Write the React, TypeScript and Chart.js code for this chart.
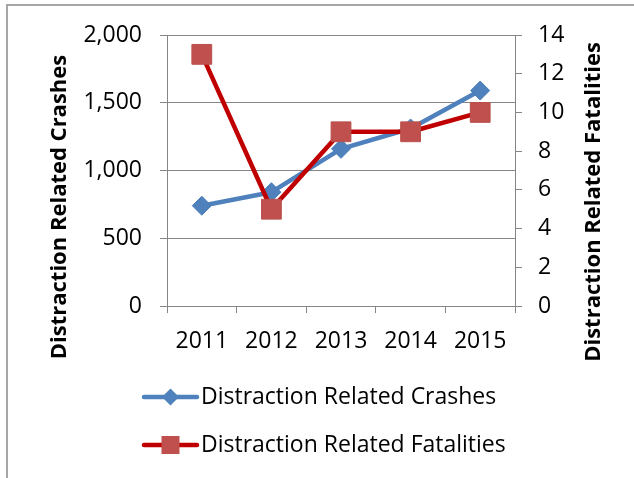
import React, { useEffect, useRef } from 'react';
import { Chart, registerables } from 'chart.js';

Chart.register(...registerables);

const years = ['2011', '2012', '2013', '2014', '2015'];
const crashes = [740, 840, 1160, 1310, 1590];
const fatalities = [13, 5, 9, 9, 10];
const crashTicks = [0, 500, 1000, 1500, 2000];
const fatalityTicks = [0, 2, 4, 6, 8, 10, 12, 14];
const crashLabel = 'Distraction Related Crashes';
const fatalityLabel = 'Distraction Related Fatalities';

const BLUE = '#4F81BD';
const RED_LINE = '#C00000';
const RED_MARK = '#C0504D';
const GRID = '#868686';
const FONT = '"Open Sans"';

function drawDiamond(ctx: CanvasRenderingContext2D, x: number, y: number, r: number) {
  ctx.beginPath();
  ctx.moveTo(x, y - r);
  ctx.lineTo(x + r, y);
  ctx.lineTo(x, y + r);
  ctx.lineTo(x - r, y);
  ctx.closePath();
  ctx.fillStyle = BLUE;
  ctx.fill();
}

function drawSquare(ctx: CanvasRenderingContext2D, x: number, y: number, h: number) {
  ctx.fillStyle = RED_MARK;
  ctx.fillRect(x - h, y - h, 2 * h, 2 * h);
}

const decorPlugin = {
  id: 'decor',
  beforeDraw(chart: any) {
    const ctx = chart.ctx as CanvasRenderingContext2D;
    ctx.save();
    ctx.fillStyle = '#ffffff';
    ctx.fillRect(0, 0, chart.width, chart.height);
    ctx.strokeStyle = '#A6A6A6';
    ctx.lineWidth = 2;
    ctx.beginPath();
    ctx.moveTo(7, chart.height);
    ctx.lineTo(7, 5);
    ctx.lineTo(chart.width, 5);
    ctx.stroke();
    ctx.restore();
  },
  afterDraw(chart: any) {
    const ctx = chart.ctx as CanvasRenderingContext2D;
    ctx.save();
    // axis titles (both read bottom-to-top)
    ctx.fillStyle = '#000';
    ctx.font = `bold 22px ${FONT}`;
    ctx.textAlign = 'center';
    ctx.textBaseline = 'alphabetic';
    ctx.save();
    ctx.translate(66, 207);
    ctx.rotate(-Math.PI / 2);
    ctx.fillText(crashLabel, 0, 0);
    ctx.restore();
    ctx.save();
    ctx.translate(600, 202);
    ctx.rotate(-Math.PI / 2);
    ctx.fillText(fatalityLabel, 0, 0);
    ctx.restore();

    // legend
    const items = [
      { label: crashLabel, y: 397, color: BLUE, kind: 'diamond' },
      { label: fatalityLabel, y: 445, color: RED_LINE, kind: 'square' },
    ];
    for (const it of items) {
      ctx.strokeStyle = it.color;
      ctx.lineWidth = 4.5;
      ctx.lineCap = 'round';
      ctx.beginPath();
      ctx.moveTo(144, it.y);
      ctx.lineTo(197, it.y);
      ctx.stroke();
      if (it.kind === 'diamond') drawDiamond(ctx, 170.5, it.y, 8.5);
      else drawSquare(ctx, 170.5, it.y, 9);
      ctx.fillStyle = '#000';
      ctx.font = `23px ${FONT}`;
      ctx.textAlign = 'left';
      ctx.textBaseline = 'middle';
      ctx.fillText(it.label, 201, it.y);
    }
    ctx.restore();
  },
};

export default function App() {
  const ref = useRef<HTMLCanvasElement | null>(null);
  useEffect(() => {
    if (!ref.current) return;
    const chart = new Chart(ref.current, {
      type: 'line',
      data: {
        labels: years,
        datasets: [
          {
            label: crashLabel,
            data: crashes,
            yAxisID: 'y',
            borderColor: BLUE,
            backgroundColor: BLUE,
            borderWidth: 4.5,
            borderCapStyle: 'round',
            borderJoinStyle: 'round',
            pointStyle: 'rectRot',
            pointRadius: 9.5,
            pointBorderWidth: 1,
            pointBackgroundColor: BLUE,
            pointBorderColor: '#4A7EBB',
            tension: 0,
            order: 2,
          },
          {
            label: fatalityLabel,
            data: fatalities,
            yAxisID: 'y1',
            borderColor: RED_LINE,
            backgroundColor: RED_MARK,
            borderWidth: 4.5,
            borderCapStyle: 'round',
            borderJoinStyle: 'round',
            pointStyle: 'rect',
            pointRadius: 14,
            pointBorderWidth: 1,
            pointBackgroundColor: RED_MARK,
            pointBorderColor: '#B9504D',
            tension: 0,
            order: 1,
          },
        ] as any,
      },
      options: {
        responsive: false,
        animation: false,
        layout: { padding: { top: 35, left: 0, right: 0, bottom: 0 } },
        plugins: { legend: { display: false }, tooltip: { enabled: false } },
        scales: {
          x: {
            type: 'category',
            offset: true,
            grid: { offset: true, drawOnChartArea: false, drawTicks: true, tickLength: 7, color: GRID },
            border: { color: GRID, width: 1 },
            ticks: { color: '#000', font: { family: FONT, size: 23 }, padding: 15, maxRotation: 0 },
            afterFit: (s: any) => { s.height = 172; },
          },
          y: {
            position: 'left',
            min: 0,
            max: 2000,
            afterBuildTicks: (s: any) => { s.ticks = crashTicks.map((v) => ({ value: v })); },
            grid: { color: GRID, tickLength: 7 },
            border: { color: GRID, width: 1 },
            ticks: {
              color: '#000',
              font: { family: FONT, size: 23 },
              padding: 18,
              callback: (v: any) => Number(v).toLocaleString('en-US'),
            },
            afterFit: (s: any) => { s.width = 167; },
          },
          y1: {
            position: 'right',
            min: 0,
            max: 14,
            afterBuildTicks: (s: any) => { s.ticks = fatalityTicks.map((v) => ({ value: v })); },
            grid: { drawOnChartArea: false, color: GRID, tickLength: 7 },
            border: { color: GRID, width: 1 },
            ticks: { color: '#000', font: { family: FONT, size: 23 }, padding: 16 },
            afterFit: (s: any) => { s.width = 119; },
          },
        },
      } as any,
      plugins: [decorPlugin],
    });
    return () => chart.destroy();
  }, []);
  return (
    <div style={{ position: 'absolute', left: 0, top: 0, width: 634, height: 478 }}>
      <canvas ref={ref} width={634} height={478} style={{ display: 'block', width: 634, height: 478 }} />
    </div>
  );
}
